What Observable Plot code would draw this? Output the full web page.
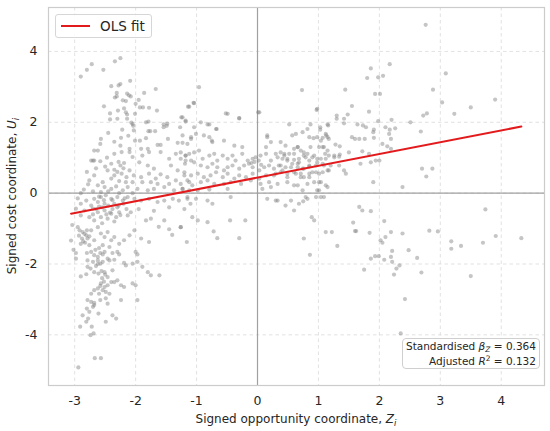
<!DOCTYPE html>
<html>
<head>
<meta charset="utf-8">
<script src="https://cdn.jsdelivr.net/npm/d3@7"></script>
<script src="https://cdn.jsdelivr.net/npm/@observablehq/plot@0.6"></script>
<style>
  html, body { margin: 0; padding: 0; background: #fff; }
  #wrap { position: relative; width: 550px; height: 431px; font-family: "DejaVu Sans", sans-serif; color: #262626; }
  #legend { position: absolute; left: 55px; top: 14px; width: 95px; height: 22px; border: 1px solid #d6d6d6; border-radius: 3px; background: rgba(255,255,255,0.85); }
  #legend .ln { position: absolute; left: 5px; top: 10px; width: 29px; height: 2px; background: #e31a1c; }
  #legend .tx { position: absolute; left: 44px; top: 2px; font-size: 13.5px; line-height: 18px; color: #262626; }
  #stats { position: absolute; left: 402px; top: 338px; width: 133px; height: 29px; border: 1px solid #cfcfcf; border-radius: 4px; background: rgba(255,255,255,0.85); font-size: 10.5px; line-height: 14.5px; text-align: right; padding: 0 3px 0 0; box-sizing: content-box; color: #262626; }
  #stats div { white-space: nowrap; }
  #stats sub { font-size: 7.5px; vertical-align: -2px; line-height: 0; font-style: italic; }
  #stats sup { font-size: 7.5px; vertical-align: 4px; line-height: 0; }
</style>
</head>
<body>
<div id="wrap"></div>
<script>
// ---- data ----
const upperLeft = [
[-2.90,3.29],[-2.80,3.48],[-2.72,3.64],[-2.53,3.48],[-2.34,3.72],[-2.25,3.81],[-2.09,3.17],[-2.40,3.02],[-2.28,3.04],[-2.25,3.08],
[-1.67,2.94],[-1.86,2.83],[-2.14,2.81],[-2.11,2.76],[-2.31,2.83],[-2.34,2.70],[-2.31,2.73],[-2.21,2.62],[-2.16,2.60],[-2.08,2.73],
[-2.00,2.52],[-1.95,2.63],[-1.93,2.42],[-1.88,2.42],[-1.78,2.41],[-1.65,2.33],[-2.52,2.45],[-2.42,2.25],[-2.29,2.33],[-2.19,2.39],
[-2.16,2.28],[-2.14,2.22],[-2.01,2.24],[-2.42,2.08],[-2.30,2.10],[-2.14,2.10],[-2.07,1.99],[-2.05,1.95],[-2.04,1.90],[-1.83,2.00],
[-1.79,2.02],[-1.54,1.94],[-1.48,1.96],[-1.25,2.14],[-1.18,2.02],[-1.27,1.86],[-2.22,1.79],[-2.03,1.77],[-1.79,1.75],
[-1.76,1.75],[-1.68,1.75],[-2.57,1.53],[-2.58,1.39],[-2.24,1.56],[-2.01,1.48],[-1.93,1.48],[-1.83,1.55],[-1.64,1.36],[-1.59,1.36],
[-1.47,1.53],[-1.31,1.42],[-1.23,1.42],[-2.25,1.34],[-2.10,1.25],[-1.91,1.25],[-1.80,1.25],[-0.96,2.99],[-1.05,2.55],[-1.12,2.44],
[-0.49,2.24],[-0.30,2.11],[0.01,2.28],[-0.82,1.94],[-0.68,1.81],[-1.54,1.86],[-1.49,1.90],[-2.73,0.92],[-2.68,0.92],
[-1.09,1.58],[-0.79,1.58],[-0.75,1.48],[0.16,1.58],[0.14,1.30],[-2.12,1.62],[-2.35,1.45],[-2.45,1.70],[-2.62,1.20]
];
const midLeft = [
[-2.68,1.20],[-2.35,1.11],[-2.23,1.16],[-2.10,1.16],[-2.05,1.02],[-1.89,1.06],[-1.78,1.16],[-1.59,1.16],[-1.45,0.97],[-1.34,1.11],
[-1.18,1.06],[-1.09,0.92],[-2.70,0.92],[-2.40,0.83],[-2.25,0.78],[-2.19,0.85],[-1.94,0.87],[-1.80,0.78],[-1.70,0.69],[-1.42,0.78],
[-1.31,0.64],[-1.19,0.83],[-2.46,0.64],[-2.35,0.66],[-2.23,0.55],[-2.10,0.64],[-2.03,0.50],[-1.91,0.45],[-1.78,0.55],[-1.67,0.41],
[-1.59,0.53],[-1.48,0.45],[-1.34,0.36],[-1.20,0.50],[-1.12,0.31],[-2.68,0.50],[-2.76,0.36],[-2.54,0.31],[-2.40,0.41],[-2.27,0.34],
[-2.16,0.31],[-2.05,0.31],[-1.89,0.31],[-1.75,0.31],[-1.64,0.26],[-1.45,0.26],[-1.26,0.26],[-2.62,0.22],[-2.51,0.17],[-2.40,0.12],
[-2.32,0.19],[-2.21,0.08],[-2.13,0.17],[-1.97,0.12],[-1.80,0.08],[-1.70,0.12],[-1.53,0.17],[-1.37,0.08],[-1.23,0.12],[-2.57,0.03],
[-2.27,0.00],[-2.05,0.00],[-2.81,-0.21],[-2.68,-0.16],[-2.57,-0.11],[-2.49,-0.06],[-2.40,-0.16],[-2.30,-0.11],[-2.21,-0.21],[-2.13,-0.11],
[-2.02,-0.16],[-1.91,-0.21],[-1.78,-0.16],[-1.64,-0.25],[-1.53,-0.21],[-1.39,-0.16],[-1.29,-0.21],[-1.15,-0.16],[-2.90,-0.30],[-2.73,-0.35],
[-2.51,-0.30],[-2.35,-0.30],[-2.62,-0.25],[-2.98,-0.44],[-2.84,-0.49],[-2.70,-0.44],[-2.62,-0.54],[-2.51,-0.49],[-2.40,-0.58],[-2.27,-0.54],
[-2.13,-0.63],[-2.90,-0.63],[-2.76,-0.68],[-2.57,-0.68],[-2.46,-0.72],[-2.32,-0.68],[-2.08,-0.54],[-1.83,-0.77],[-1.75,-0.72],[-1.53,-0.77],
[-1.26,-0.96],[-2.68,-0.77],[-2.95,-0.96],[-2.87,-1.10],[-2.81,-1.19],[-2.79,-1.28],[-2.73,-1.05],[-2.62,-0.96],[-2.57,-1.14],[-2.51,-1.24],
[-2.46,-1.10],[-2.40,-1.33],[-2.35,-1.24],[-2.27,-1.43],[-2.19,-1.33],[-2.10,-1.19],[-2.02,-1.05],[-1.91,-1.28],[-1.78,-1.38],[-2.68,-1.33],
[-2.54,-1.47],[-2.43,-1.52],[-2.90,-1.43],[-2.76,-1.47],[-3.06,-1.34],[-3.04,-0.90],[-3.02,-1.60],[-2.98,-1.85],
[-1.45,-1.02],[-1.40,-1.18],[-1.62,-0.95],[-1.95,-0.45],[-1.70,-0.50],[-1.45,-0.40],[-1.20,-0.45],[-1.10,-0.30],
[-2.93,-1.20],[-2.88,-1.28],[-2.84,-1.15],[-2.86,-1.36],[-2.80,-1.05],[-2.92,-1.05],[-2.76,-1.22],[-2.83,-1.40],
[-2.55,-0.40],[-2.45,-0.35],[-2.38,-0.45],[-2.30,-0.40],[-2.25,-0.62],[-2.48,-0.60],[-2.60,-0.38],[-2.20,-0.30],[-2.35,-0.80],[-2.55,-0.85],
[-2.85,0.10],[-2.78,0.25],[-2.70,0.05],[-2.90,0.00],[-2.95,-0.15],[-2.65,0.70],[-2.80,0.60],[-2.58,0.90],[-2.47,1.00],[-2.50,0.75],
[-2.60,-0.10],[-2.45,0.05],[-2.38,-0.20],[-2.28,-0.35],[-2.15,-0.45],[-2.65,-0.45],[-2.52,-0.20],[-2.42,-0.55],[-2.18,-0.15],[-2.70,-0.60],
[-2.30,0.60],[-2.20,0.70],[-2.15,0.45],[-2.35,0.50],[-2.28,0.88]
];
const lowerLeft = [
[-2.98,-1.69],[-2.80,-1.69],[-2.73,-1.66],[-2.68,-1.75],[-2.62,-1.80],[-2.58,-1.69],[-2.54,-1.73],[-2.51,-1.66],[-2.46,-1.85],[-2.38,-1.69],
[-2.30,-1.66],[-2.27,-1.73],[-2.00,-1.66],[-1.97,-1.73],[-2.79,-1.90],[-2.70,-1.94],[-2.62,-1.90],[-2.58,-1.99],[-2.54,-1.94],[-2.43,-1.90],
[-2.35,-1.88],[-2.19,-1.97],[-2.16,-2.04],[-2.05,-1.99],[-1.97,-1.94],[-1.89,-2.08],[-1.80,-2.23],[-1.75,-2.32],[-1.61,-2.32],[-2.79,-2.08],
[-2.74,-2.13],[-2.65,-2.06],[-2.68,-2.23],[-2.61,-2.27],[-2.51,-2.23],[-2.46,-2.37],[-2.38,-2.18],[-2.30,-2.46],[-2.90,-2.35],[-2.81,-2.29],
[-2.57,-2.55],[-2.62,-2.69],[-2.54,-2.74],[-2.51,-2.65],[-2.46,-2.60],[-2.40,-2.51],[-2.35,-2.51],[-2.49,-2.79],[-2.43,-2.84],[-2.68,-2.74],
[-2.73,-2.84],[-2.60,-2.84],[-2.24,-2.60],[-2.19,-2.65],[-2.05,-2.55],[-2.00,-2.60],[-1.97,-3.02],[-2.24,-3.02],[-2.79,-3.02],[-2.73,-3.07],
[-2.68,-3.10],[-2.58,-3.02],[-2.49,-2.97],[-2.46,-3.12],[-2.80,-3.26],[-2.70,-3.21],[-2.68,-3.16],[-2.76,-3.35],[-2.61,-3.40],[-2.87,-3.45],
[-2.78,-3.54],[-2.81,-3.63],[-2.38,-3.45],[-2.32,-3.54],[-2.49,-3.63],[-2.72,-3.77],[-2.91,-3.77],[-2.74,-4.01],[-2.69,-3.96],[-2.67,-4.66],
[-2.57,-4.66],[-2.94,-4.92],[-2.55,-2.40],[-2.52,-2.50],[-2.58,-2.62],[-2.50,-2.30],[-2.56,-2.20],[-2.62,-2.00],[-2.66,-1.60],[-2.60,-1.55]
];
const center = [
[-1.04,2.54],[-1.14,2.44],[-1.23,2.14],[-0.52,2.25],[-0.30,2.12],[0.03,2.28],[0.98,2.38],[0.52,1.94],[0.87,1.94],[1.15,1.94],
[-1.18,2.05],[-1.04,1.86],[-0.93,2.00],[-0.79,1.94],[-0.67,1.81],[0.63,1.67],[0.74,1.72],[0.82,1.81],[0.98,1.58],[1.04,1.48],
[1.12,1.67],[1.15,1.58],[-1.23,1.63],[-1.09,1.53],[-1.01,1.67],[-0.88,1.63],[-0.74,1.44],[-0.55,1.48],[-0.38,1.34],[-0.25,1.30],
[0.16,1.63],[0.22,1.44],[0.38,1.44],[0.46,1.34],[0.66,1.30],[0.71,1.20],[0.87,1.30],[1.07,1.30],[1.15,1.20],
[-1.15,1.39],[-1.12,1.11],[-1.18,1.06],[-1.26,1.15],[-1.04,1.15],[-0.96,1.20],[-0.90,0.97],[-0.79,1.06],[-0.71,1.11],[-0.66,0.92],
[-0.57,1.06],[-0.49,0.97],[-0.41,1.06],[-0.36,0.92],[-0.25,1.11],[-0.16,0.92],[-0.08,0.97],[-0.03,1.01],[0.05,1.06],[0.14,1.11],
[0.22,0.92],[0.33,1.01],[0.44,1.11],[0.49,0.97],[0.60,1.11],[0.68,0.97],[0.76,1.06],[0.85,0.92],[0.93,1.06],[1.04,0.97],
[1.17,1.06],[1.09,1.30],[-1.26,0.97],[-1.18,0.92],[-1.04,0.87],[-0.93,0.78],[-0.82,0.73],[-0.74,0.83],[-0.66,0.73],[-0.55,0.64],
[-0.49,0.73],[-0.41,0.78],[-0.30,0.69],[-0.22,0.78],[-0.14,0.83],[-0.08,0.73],[0.03,0.64],[0.11,0.73],[0.19,0.78],[0.27,0.69],
[0.38,0.78],[0.55,0.73],[0.66,0.83],[0.74,0.69],[0.85,0.78],[0.98,0.87],[1.09,0.78],[-1.20,0.59],[-1.09,0.50],[-0.98,0.55],
[-0.88,0.45],[-0.77,0.50],[-0.68,0.59],[-0.57,0.45],[-0.49,0.55],[-0.38,0.41],[-0.30,0.50],[-0.19,0.45],[-0.08,0.55],[0.03,0.41],
[0.14,0.50],[0.27,0.50],[0.38,0.59],[0.49,0.45],[0.63,0.55],[0.76,0.45],[0.90,0.59],[1.01,0.55],[1.15,0.64],[-1.15,0.36],
[-1.07,0.22],[-0.93,0.31],[-0.82,0.36],[-0.71,0.26],[-0.55,0.26],[-0.44,0.31],[-0.27,0.26],[-0.11,0.36],[0.05,0.26],[0.19,0.31],
[0.33,0.26],[0.49,0.31],[0.66,0.22],[0.82,0.26],[1.04,0.31],[-1.23,0.12],[-1.12,0.08],[-0.98,0.08],[-0.79,0.10],[-0.49,0.12],
[0.08,0.12],[0.22,0.17],[0.60,0.22],[0.74,0.08],[0.98,0.08],[1.15,0.17],[-1.15,-0.11],[-1.01,-0.16],[-0.82,-0.21],[-0.74,-0.30],
[-0.44,-0.11],[0.16,-0.16],[0.33,-0.21],[0.55,-0.21],[0.82,-0.16],[1.09,-0.11],[-1.26,-0.96],[-1.16,-1.38],[-0.72,-1.08],[-0.66,-1.27],
[-0.45,-0.77],[-0.30,-1.27],[-0.20,-0.77],[-0.98,-0.77],[-0.82,-0.82],[-1.07,-0.68],[-0.05,0.88],[0.02,0.92],[-0.10,0.85],[0.06,0.80]
];
const upperRight = [
[2.76,4.75],[2.17,3.64],[1.86,3.52],[1.80,3.25],[1.98,3.27],[2.06,3.31],[3.09,3.38],[0.73,2.91],[1.44,2.92],[1.93,2.80],
[2.01,2.80],[2.88,2.92],[3.90,2.64],[3.50,2.42],[3.03,2.56],[3.23,2.24],[1.55,2.46],[0.97,2.35],[1.83,2.30],[2.78,2.25],
[2.72,2.19],[1.30,2.19],[1.30,2.10],[1.42,2.10],[1.48,2.22],[1.42,1.97],[2.20,2.07],[2.51,2.00],[1.98,2.03],[1.03,1.86],
[1.03,1.79],[1.16,1.91],[1.64,1.94],[1.73,1.91],[1.78,1.86],[1.91,1.79],[1.90,1.72],[2.10,1.86],[2.17,1.79],[2.26,1.83],
[2.16,1.67],[2.68,1.74],[0.57,1.63],[1.55,1.58],[1.60,1.53],[1.67,1.53],[1.76,1.53],[1.91,1.56],[2.05,1.39],[2.13,1.32],
[2.19,1.53],[2.19,1.25],[0.85,1.58],[0.92,1.55],[1.07,1.56],[1.13,1.63],[1.17,1.53],[1.01,1.30],[1.28,1.37],[1.35,1.32],
[1.11,1.11],[1.26,1.06],[1.35,1.09],[1.50,1.15],[1.72,1.18],[1.83,1.11],
[0.30,1.11],[0.38,1.15],[0.44,1.06],[0.52,1.11],[0.60,1.25],[0.66,1.30],[0.76,1.15],[0.82,1.11],[0.41,0.97],[0.49,0.92],
[0.60,0.94],[0.68,0.87],[0.79,1.01],[0.90,1.01],[0.98,0.97],[1.12,0.97],[1.26,1.01],[1.34,1.03],[0.35,0.78],[0.46,0.73],
[0.57,0.83],[0.66,0.73],[0.76,0.69],[0.85,0.75],[0.96,0.78],[1.07,0.83],[1.20,0.78],[1.34,0.78],[1.42,0.64],[1.45,0.55],
[1.69,0.83],[1.86,0.87],[1.94,0.92],[2.00,0.92],[2.70,0.69],[2.87,0.69],[2.77,0.47],[0.30,0.55],[0.41,0.64],[0.49,0.55],
[0.60,0.59],[0.71,0.55],[0.85,0.55],[0.96,0.59],[1.07,0.59],[1.17,0.64],[0.71,0.45],[0.85,0.45],[1.01,0.31],[1.12,0.22],
[0.93,0.31],[1.90,0.31],[2.38,0.17],[1.01,0.08],[0.96,-0.11],[1.04,-0.11],
[0.30,-0.21],[0.46,-0.35],[0.60,-0.49],[0.68,-0.30],[0.75,-0.23],[0.79,-0.11],[1.67,-0.39],[1.72,-0.49],[1.86,-0.51],[3.74,-0.46]
];
const lowerRight = [
[0.89,-0.68],[0.93,-0.77],[0.76,-1.28],[0.86,-1.74],[1.12,-1.10],[1.22,-1.10],[1.31,-1.49],[1.57,-0.83],[1.60,-1.07],[1.62,-1.07],
[1.84,-1.12],[2.08,-0.79],[2.10,-1.24],[2.02,-1.33],[2.05,-1.40],[2.19,-1.10],[2.38,-1.14],[2.21,-1.63],[2.48,-1.61],[1.86,-1.85],
[1.93,-1.78],[1.99,-1.78],[2.08,-1.88],[2.19,-1.80],[2.21,-1.94],[2.28,-2.13],[2.33,-2.04],[2.24,-2.30],[1.75,-2.16],[2.62,-1.83],
[2.69,-2.24],[2.42,-2.99],[2.35,-3.96],[2.82,-1.06],[2.96,-1.08],[3.18,-1.36],[3.18,-1.57],[3.34,-1.49],[3.50,-2.34],[3.70,-1.40],
[3.91,-1.21],[4.33,-1.27]
];
// OLS fit line end points
const fitX = [-3.06, 4.33];
const fitY = [-0.58, 1.88];
const xTicks = [-3, -2, -1, 0, 1, 2, 3, 4];
const yTicks = [-4, -2, 0, 2, 4];
const betaZ = "0.364";
const adjR2 = "0.132";

// ---- build ----
const points = [...upperLeft, ...midLeft, ...lowerLeft, ...center, ...upperRight, ...lowerRight]
  .map(([x, y]) => ({x, y}));
const fit = fitX.map((x, i) => ({x, y: fitY[i]}));
const fmt = d => String(d);  // ASCII hyphen minus like the reference

const chart = Plot.plot({
  width: 550,
  height: 431,
  marginLeft: 48,
  marginRight: 6,
  marginTop: 7,
  marginBottom: 46,
  style: {fontFamily: "DejaVu Sans, sans-serif", fontSize: "12.5px", color: "#262626", background: "#fff"},
  x: {domain: [-3.43, 4.71], ticks: xTicks, tickFormat: fmt},
  y: {domain: [-5.43, 5.24], ticks: yTicks, tickFormat: fmt},
  marks: [
    Plot.gridX(xTicks, {stroke: "#d9d9d9", strokeOpacity: 1, strokeWidth: 0.8, strokeDasharray: "3.5,3"}),
    Plot.gridY(yTicks, {stroke: "#d9d9d9", strokeOpacity: 1, strokeWidth: 0.8, strokeDasharray: "3.5,3"}),
    Plot.ruleX([0], {stroke: "#a0a0a0", strokeWidth: 1.2}),
    Plot.ruleY([0], {stroke: "#a0a0a0", strokeWidth: 1.2}),
    Plot.dot(points, {x: "x", y: "y", r: 2.1, fill: "#7f7f7f", fillOpacity: 0.45, stroke: "none"}),
    Plot.line(fit, {x: "x", y: "y", stroke: "#e31a1c", strokeWidth: 2}),
    Plot.frame({stroke: "#cccccc", strokeWidth: 1.2}),
    Plot.axisX({ticks: xTicks, tickFormat: fmt, tickSize: 0, tickPadding: 11, label: null, fontSize: 12.5}),
    Plot.axisY({ticks: yTicks, tickFormat: fmt, tickSize: 0, tickPadding: 11, label: null, fontSize: 12.5})
  ]
});

const wrap = document.getElementById("wrap");
wrap.appendChild(chart);

// axis titles with italic symbol and subscript
const svg = d3.select(chart);
const xl = svg.append("text")
  .attr("x", 296).attr("y", 423)
  .attr("text-anchor", "middle")
  .attr("font-size", 12).attr("fill", "#262626");
xl.append("tspan").text("Signed opportunity coordinate, ");
xl.append("tspan").attr("font-style", "italic").text("Z");
xl.append("tspan").attr("font-style", "italic").attr("font-size", 8.5).attr("dy", 2.5).text("i");

const yl = svg.append("text")
  .attr("transform", "translate(16,196) rotate(-90)")
  .attr("text-anchor", "middle")
  .attr("font-size", 12).attr("fill", "#262626");
yl.append("tspan").text("Signed cost coordinate, ");
yl.append("tspan").attr("font-style", "italic").text("U");
yl.append("tspan").attr("font-style", "italic").attr("font-size", 8.5).attr("dy", 2.5).text("i");

// legend
const legend = document.createElement("div");
legend.id = "legend";
legend.innerHTML = '<div class="ln"></div><div class="tx">OLS fit</div>';
wrap.appendChild(legend);

// stats box
const stats = document.createElement("div");
stats.id = "stats";
stats.innerHTML =
  '<div>Standardised <i>β</i><sub>Z</sub> = ' + betaZ + '</div>' +
  '<div>Adjusted <i>R</i><sup>2</sup> = ' + adjR2 + '</div>';
wrap.appendChild(stats);
</script>
</body>
</html>
